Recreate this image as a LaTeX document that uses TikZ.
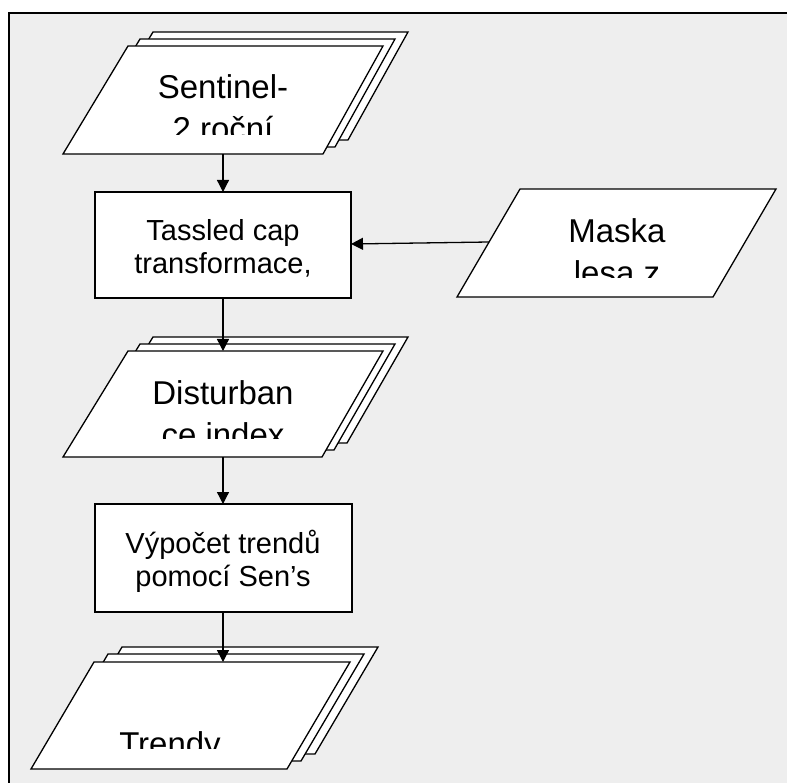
\documentclass[tikz,border=0pt]{standalone}
\usepackage{fontspec}
\setmainfont{Liberation Sans}
\usetikzlibrary{arrows.meta}
\definecolor{panelgrey}{HTML}{EEEEEE}
\tikzset{
  sheet/.style={draw=black, fill=white, line width=1.3pt, line join=miter},
  procbox/.style={draw=black, fill=white, line width=1.3pt},
  flow/.style={draw=black, line width=1.3pt, -{Triangle[length=12pt,width=12pt]}},
  bigtext/.style={inner sep=0pt, anchor=base, font=\fontsize{33}{42}\selectfont},
  smalltext/.style={inner sep=0pt, anchor=base, font=\fontsize{29}{32.5}\selectfont},
}
\newcommand\lines[2]{\parbox[t]{#1}{\centering #2}}
\begin{document}
\begin{tikzpicture}[x=1pt, y=-1pt]
  \useasboundingbox (0,0) rectangle (787,783);
  \clip (0,0) rectangle (787,783);
  % background panel
  \draw[fill=panelgrey, line width=2pt] (9,13) rectangle (820,820);

  % Sentinel-2 input (stacked documents)
  \foreach \dx/\dy in {25/-14, 12/-7, 0/0}
    \draw[sheet, shift={(\dx,\dy)}] (128,46) -- (383,46) -- (323,154) -- (63,154) -- cycle;
  \begin{scope}
    \clip (63,46) rectangle (383,134.5);
    \node[bigtext] (sentinel) at (223,99) {\lines{300pt}{Sentinel-\\2 roční}};
  \end{scope}
  \coordinate (sentinel-s) at (223,154);

  % Tasseled cap step
  \draw[procbox] (95,192) rectangle (351,298);
  \node[smalltext] (tassled) at (223,241) {\lines{300pt}{Tassled cap\\transformace,}};
  \coordinate (tassled-n) at (223,192);
  \coordinate (tassled-e) at (351,244);
  \coordinate (tassled-s) at (223,298);

  % forest mask input
  \draw[sheet] (520,189) -- (776,189) -- (713,297) -- (457,297) -- cycle;
  \begin{scope}
    \clip (457,189) rectangle (776,278);
    \node[bigtext] (maska) at (617,242.6) {\lines{300pt}{Maska\\lesa z}};
  \end{scope}
  \coordinate (maska-w) at (489,242);

  % disturbance index (stacked documents)
  \foreach \dx/\dy in {25/-14, 12/-7, 0/0}
    \draw[sheet, shift={(\dx,\dy)}] (128,351) -- (383,351) -- (322,457) -- (63,457) -- cycle;
  \begin{scope}
    \clip (63,351) rectangle (383,438);
    \node[bigtext] (disturb) at (223,405) {\lines{300pt}{Disturban\\ce index}};
  \end{scope}
  \coordinate (disturb-n) at (223,351);
  \coordinate (disturb-s) at (223,457);

  % trend computation step
  \draw[procbox] (95,504) rectangle (352,612);
  \node[smalltext] (trend) at (223,553.5) {\lines{300pt}{Výpočet trendů\\pomocí Sen’s}};
  \coordinate (trend-n) at (223,504);
  \coordinate (trend-s) at (223,612);

  % resulting trends (stacked documents)
  \foreach \dx/\dy in {28/-15, 14/-8, 0/0}
    \draw[sheet, shift={(\dx,\dy)}] (94,662) -- (350,662) -- (287,769) -- (31,769) -- cycle;
  \begin{scope}
    \clip (31,662) rectangle (350,748);
    \node[bigtext] (trendy) at (170,755.3) {\lines{300pt}{Trendy}};
  \end{scope}
  \coordinate (trendy-n) at (223,662);

  % connectors
  \draw[flow] (sentinel-s) -- (tassled-n);
  \draw[flow] (maska-w) -- (tassled-e);
  \draw[flow] (tassled-s) -- (disturb-n);
  \draw[flow] (disturb-s) -- (trend-n);
  \draw[flow] (trend-s) -- (trendy-n);
\end{tikzpicture}
\end{document}
